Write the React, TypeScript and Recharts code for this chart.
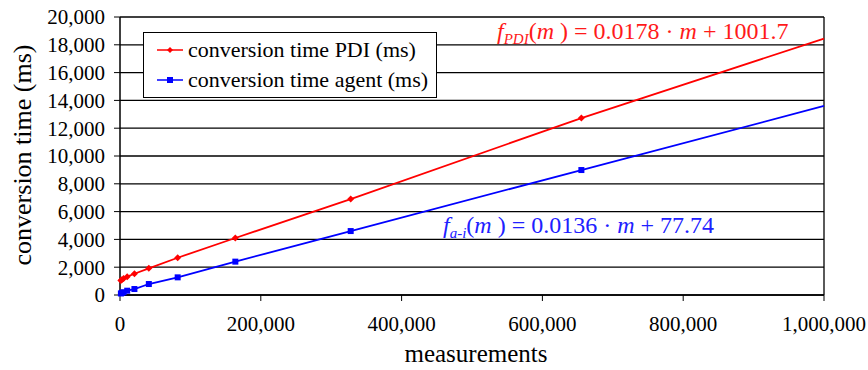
import { LineChart, Line, XAxis, YAxis, CartesianGrid, ReferenceLine } from 'recharts';

// measured sizes (doubling) + axis end, last point only extends the line
const measurements = [1280, 2560, 5120, 10240, 20480, 40960, 81920, 163840, 327680, 655360, 1000000];
const pdiTime = [1050, 1100, 1180, 1320, 1530, 1920, 2680, 4100, 6900, 12730, 18450];
const agentTime = [110, 150, 200, 310, 430, 790, 1270, 2400, 4600, 8990, 13600];

const xTicks = [0, 200000, 400000, 600000, 800000, 1000000];
const yTicks = [0, 2000, 4000, 6000, 8000, 10000, 12000, 14000, 16000, 18000, 20000];

const data = measurements.map((m, i) => ({ m, pdi: pdiTime[i], agent: agentTime[i] }));

const font = 'Liberation Serif, Tinos, DejaVu Serif, serif';
const fmt = (v: number) => v.toLocaleString('en-US');

const Diamond = (props: any) => {
  const { cx, cy, index } = props;
  if (index === measurements.length - 1) return <g key={index} />;
  return <path key={index} d={`M${cx},${cy - 3.5}L${cx + 3.5},${cy}L${cx},${cy + 3.5}L${cx - 3.5},${cy}Z`} fill="#ff0000" />;
};

const Square = (props: any) => {
  const { cx, cy, index } = props;
  if (index === measurements.length - 1) return <g key={index} />;
  return <rect key={index} x={cx - 3} y={cy - 3} width={6} height={6} fill="#0000ff" />;
};

function LegendRow({ color, label, square }: { color: string; label: string; square?: boolean }) {
  return (
    <div style={{ display: 'flex', alignItems: 'center', height: 30, whiteSpace: 'nowrap' }}>
      <svg width={26} height={10} style={{ marginRight: 5, flexShrink: 0 }}>
        <line x1={0} y1={5} x2={26} y2={5} stroke={color} strokeWidth={1.5} />
        {square ? <rect x={10} y={2} width={6} height={6} fill={color} /> : <path d="M13,2L16,5L13,8L10,5Z" fill={color} />}
      </svg>
      <span>{label}</span>
    </div>
  );
}

export default function App() {
  return (
    <div style={{ position: 'absolute', left: 0, top: 0, width: 868, height: 370, background: '#fff', fontFamily: font }}>
      <LineChart width={868} height={370} data={data} margin={{ top: 17, right: 44, bottom: 0, left: 0 }} style={{ fontFamily: font }}>
        <CartesianGrid vertical={false} stroke="#000" strokeWidth={1.3} />
        <XAxis
          dataKey="m"
          type="number"
          domain={[0, 1000000]}
          ticks={xTicks}
          interval={0}
          tickFormatter={fmt}
          height={75}
          stroke="#000"
          tickSize={6}
          tickMargin={15}
          tick={{ fill: '#000', fontSize: 21, fontFamily: font }}
          axisLine={{ stroke: '#000', strokeWidth: 1.5 }}
        />
        <YAxis
          type="number"
          domain={[0, 20000]}
          ticks={yTicks}
          interval={0}
          tickFormatter={fmt}
          width={120}
          stroke="#000"
          tickSize={6}
          tickMargin={9}
          tick={{ fill: '#000', fontSize: 21, fontFamily: font }}
          axisLine={{ stroke: '#000', strokeWidth: 1.5 }}
        />
        <ReferenceLine x={1000000} stroke="#000" strokeWidth={1.3} />
        <Line dataKey="pdi" stroke="#ff0000" strokeWidth={1.8} dot={Diamond} isAnimationActive={false} />
        <Line dataKey="agent" stroke="#0000ff" strokeWidth={1.8} dot={Square} isAnimationActive={false} />
      </LineChart>

      <div
        style={{
          position: 'absolute', left: 143, top: 32, width: 294, height: 66, border: '1px solid #000',
          background: '#fff', fontSize: 22, padding: '2px 0 0 13px', boxSizing: 'border-box', lineHeight: '30px',
        }}
      >
        <LegendRow color="#ff0000" label="conversion time PDI (ms)" />
        <LegendRow color="#0000ff" label="conversion time agent (ms)" square />
      </div>

      <svg width={868} height={370} style={{ position: 'absolute', left: 0, top: 0, pointerEvents: 'none', fontFamily: font }}>
        <text x={497} y={39} fill="#ff1a1a" fontSize={24}>
          <tspan fontStyle="italic">f</tspan>
          <tspan fontStyle="italic" fontSize={15} dy={5}>PDI</tspan>
          <tspan dy={-5}>(</tspan>
          <tspan fontStyle="italic">m</tspan>
          <tspan> ) = 0.0178 · </tspan>
          <tspan fontStyle="italic">m</tspan>
          <tspan>  + 1001.7</tspan>
        </text>
        <text x={443} y={233} fill="#2020ff" fontSize={24}>
          <tspan fontStyle="italic">f</tspan>
          <tspan fontStyle="italic" fontSize={15} dy={5}>a-i</tspan>
          <tspan dy={-5}>(</tspan>
          <tspan fontStyle="italic">m</tspan>
          <tspan> ) = 0.0136 · </tspan>
          <tspan fontStyle="italic">m</tspan>
          <tspan>  + 77.74</tspan>
        </text>
        <text x={476} y={362} textAnchor="middle" fontSize={25} fill="#000">measurements</text>
        <text transform="translate(31,155) rotate(-90)" textAnchor="middle" fontSize={26} fill="#000">conversion time (ms)</text>
      </svg>
    </div>
  );
}
